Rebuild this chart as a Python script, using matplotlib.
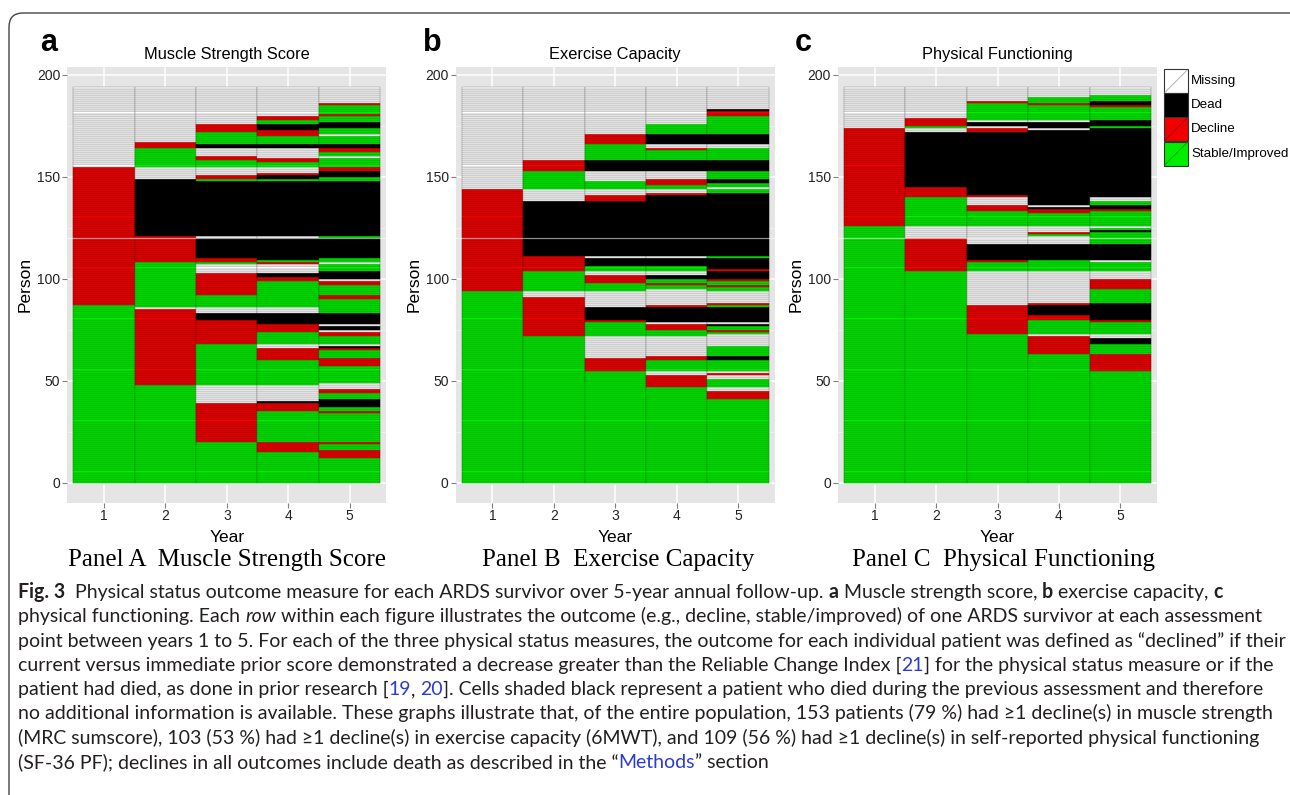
import matplotlib
matplotlib.use("Agg")
import matplotlib.pyplot as plt
from matplotlib.patches import Rectangle, FancyBboxPatch
from matplotlib.font_manager import FontProperties
import numpy as np

W, H = 1290, 795
plt.rcParams["font.family"] = ["Liberation Sans", "DejaVu Sans"]

# states: M = missing, D = dead, R = decline, G = stable/improved
years = [1, 2, 3, 4, 5]
y_ticks = [0, 50, 100, 150, 200]
legend_codes = ["M", "D", "R", "G"]
legend_labels = ["Missing", "Dead", "Decline", "Stable/Improved"]

# runs per year, listed from person 0 upwards: (state, number of persons)
strength_runs = [
    [("G", 87), ("R", 68), ("M", 39)],
    [("G", 48), ("R", 37), ("M", 1), ("G", 22), ("R", 13), ("D", 28), ("M", 6), ("G", 9), ("R", 3), ("M", 27)],
    [("G", 20), ("R", 19), ("M", 9), ("G", 20), ("R", 12), ("D", 3), ("M", 3), ("G", 6), ("R", 11), ("M", 4),
     ("G", 1), ("R", 2), ("D", 10), ("M", 1), ("D", 27), ("G", 1), ("R", 2), ("M", 4), ("G", 3), ("R", 2),
     ("M", 4), ("D", 2), ("G", 6), ("R", 4), ("M", 18)],
    [("G", 15), ("R", 5), ("G", 15), ("R", 4), ("D", 1), ("M", 8), ("G", 12), ("R", 6), ("M", 2), ("G", 6),
     ("R", 4), ("D", 5), ("M", 3), ("G", 13), ("R", 2), ("D", 2), ("M", 4), ("R", 1), ("G", 1), ("D", 11),
     ("M", 1), ("D", 27), ("G", 1), ("D", 2), ("R", 1), ("M", 3), ("G", 2), ("R", 2), ("M", 5), ("D", 2),
     ("G", 4), ("R", 3), ("D", 3), ("G", 2), ("R", 2), ("M", 14)],
    [("G", 12), ("R", 4), ("G", 3), ("R", 1), ("G", 14), ("R", 1), ("G", 2), ("D", 4), ("G", 3), ("R", 2),
     ("M", 3), ("G", 8), ("R", 4), ("G", 4), ("R", 1), ("D", 1), ("M", 1), ("G", 4), ("R", 2), ("M", 1),
     ("D", 2), ("M", 1), ("D", 5), ("G", 7), ("R", 2), ("G", 5), ("R", 2), ("M", 1), ("D", 4), ("G", 3),
     ("M", 1), ("G", 2), ("D", 10), ("G", 1), ("D", 27), ("G", 2), ("D", 3), ("R", 2), ("G", 4), ("M", 1),
     ("G", 2), ("R", 2), ("D", 2), ("G", 4), ("M", 1), ("G", 3), ("D", 3), ("G", 3), ("R", 1), ("G", 4),
     ("R", 1), ("M", 8)],
]

exercise_runs = [
    [("G", 94), ("R", 50), ("M", 50)],
    [("G", 72), ("R", 19), ("M", 3), ("G", 10), ("R", 7), ("D", 27), ("M", 6), ("G", 9), ("R", 5), ("M", 36)],
    [("G", 55), ("R", 6), ("M", 11), ("G", 7), ("R", 1), ("D", 6), ("M", 8), ("G", 4), ("R", 4), ("M", 2),
     ("G", 2), ("D", 4), ("M", 1), ("D", 27), ("R", 3), ("M", 3), ("G", 4), ("M", 5), ("D", 5), ("G", 8),
     ("R", 5), ("M", 23)],
    [("G", 47), ("R", 6), ("M", 2), ("G", 5), ("R", 2), ("M", 10), ("G", 3), ("R", 3), ("M", 1), ("D", 7),
     ("R", 1), ("M", 8), ("G", 2), ("R", 1), ("G", 2), ("D", 2), ("M", 2), ("G", 2), ("D", 4), ("M", 1),
     ("D", 30), ("R", 1), ("M", 2), ("G", 2), ("R", 3), ("M", 4), ("D", 5), ("G", 5), ("R", 1), ("M", 2),
     ("D", 5), ("G", 5), ("M", 18)],
    [("G", 41), ("R", 4), ("M", 2), ("G", 4), ("M", 2), ("R", 1), ("M", 1), ("G", 5), ("D", 2), ("G", 5),
     ("M", 6), ("G", 1), ("R", 1), ("G", 2), ("D", 1), ("M", 1), ("D", 7), ("G", 1), ("R", 1), ("M", 6),
     ("G", 2), ("R", 1), ("G", 2), ("R", 1), ("D", 4), ("R", 1), ("D", 5), ("G", 1), ("D", 31), ("G", 2),
     ("M", 1), ("G", 2), ("D", 2), ("G", 4), ("D", 5), ("G", 6), ("M", 2), ("D", 5), ("G", 9), ("R", 2),
     ("D", 1), ("M", 11)],
]

physical_runs = [
    [("G", 126), ("R", 48), ("M", 20)],
    [("G", 104), ("R", 16), ("M", 6), ("G", 14), ("R", 5), ("D", 27), ("M", 2), ("G", 1), ("R", 4), ("M", 15)],
    [("G", 73), ("R", 14), ("M", 17), ("G", 4), ("R", 1), ("D", 8), ("M", 9), ("G", 7), ("R", 3), ("M", 4),
     ("R", 1), ("D", 31), ("R", 2), ("M", 1), ("D", 2), ("M", 1), ("G", 8), ("R", 1), ("M", 7)],
    [("G", 63), ("R", 9), ("M", 1), ("G", 7), ("R", 2), ("D", 5), ("R", 1), ("M", 16), ("G", 5), ("D", 8),
     ("M", 4), ("G", 1), ("R", 1), ("M", 3), ("G", 6), ("R", 2), ("D", 1), ("M", 1), ("D", 37), ("M", 1),
     ("D", 3), ("M", 1), ("G", 7), ("R", 1), ("G", 3), ("M", 5)],
    [("G", 55), ("R", 8), ("G", 5), ("D", 3), ("M", 2), ("G", 6), ("R", 1), ("D", 8), ("G", 7), ("R", 5),
     ("M", 4), ("G", 4), ("M", 1), ("D", 8), ("G", 6), ("D", 1), ("G", 1), ("M", 1), ("G", 7), ("R", 1),
     ("D", 2), ("G", 2), ("M", 2), ("D", 34), ("G", 1), ("D", 3), ("G", 6), ("R", 1), ("D", 2), ("G", 3),
     ("M", 4)],
]

panel_runs = [strength_runs, exercise_runs, physical_runs]
panel_titles = ["Muscle Strength Score", "Exercise Capacity", "Physical Functioning"]
panel_letters = ["a", "b", "c"]
panel_names = ["Panel A  Muscle Strength Score", "Panel B  Exercise Capacity",
               "Panel C  Physical Functioning"]

caption_lines = [
    [("Fig. 3", "b"), ("  Physical status outcome measure for each ARDS survivor over 5-year annual follow-up. ", "n"),
     ("a", "b"), (" Muscle strength score, ", "n"), ("b", "b"), (" exercise capacity, ", "n"), ("c", "b")],
    [("physical functioning. Each ", "n"), ("row", "i"),
     (" within each figure illustrates the outcome (e.g., decline, stable/improved) of one ARDS survivor at each assessment", "n")],
    [("point between years 1 to 5. For each of the three physical status measures, the outcome for each individual "
      "patient was defined as \u201cdeclined\u201d if their", "n")],
    [("current versus immediate prior score demonstrated a decrease greater than the Reliable Change Index [", "n"),
     ("21", "l"), ("] for the physical status measure or if the", "n")],
    [("patient had died, as done in prior research [", "n"), ("19", "l"), (", ", "n"), ("20", "l"),
     ("]. Cells shaded black represent a patient who died during the previous assessment and therefore", "n")],
    [("no additional information is available. These graphs illustrate that, of the entire population, 153 patients "
      "(79 %) had \u22651 decline(s) in muscle strength", "n")],
    [("(MRC sumscore), 103 (53 %) had \u22651 decline(s) in exercise capacity (6MWT), and 109 (56 %) had \u22651 "
      "decline(s) in self-reported physical functioning", "n")],
    [("(SF-36 PF); declines in all outcomes include death as described in the \u201c", "n"), ("Methods", "l"),
     ("\u201d section", "n")],
]

FACE = {"M": "#ffffff", "D": "#000000", "R": "#f20000", "G": "#00ee00"}
EDGE = {"M": "#8c8c8c", "D": "#000000", "R": "#8a0000", "G": "#008a00"}


def expand(runs):
    cells = []
    for state, n in runs:
        cells += [state] * n
    return cells


fig = plt.figure(figsize=(W / 100, H / 100), dpi=100)
fig.patch.set_facecolor("white")

ax_left = [67.2, 455.6, 837.9]
ax_w, ax_top, ax_bot = 319.2, 67.2, 502.5

for k in range(3):
    ax = fig.add_axes([ax_left[k] / W, (H - ax_bot) / H, ax_w / W, (ax_bot - ax_top) / H])
    ax.set_facecolor("#e5e5e5")
    for yr, col in zip(years, panel_runs[k]):
        cells = expand(col)
        ax.bar([yr] * len(cells), 1, width=1, bottom=np.arange(len(cells)),
               color=[FACE[c] for c in cells], edgecolor=[EDGE[c] for c in cells],
               linewidth=0.35, zorder=2)
    ax.axhline(120, color="white", lw=0.9, alpha=0.55, zorder=3)
    ax.set_xlim(0.4, 5.6)
    ax.set_ylim(-9.7, 203.7)
    ax.set_xticks(years)
    ax.set_yticks(y_ticks)
    ax.set_yticks([25, 75, 125, 175], minor=True)
    ax.set_axisbelow(True)
    ax.grid(True, which="major", color="white", lw=1.1)
    ax.grid(True, which="minor", axis="y", color="#f4f4f4", lw=0.5)
    for sp in ax.spines.values():
        sp.set_visible(False)
    ax.tick_params(which="major", length=3.5, width=0.8, color="#7f7f7f",
                   labelsize=10, labelcolor="#222222", pad=1.5)
    ax.tick_params(which="minor", length=0)
    ax.set_xlabel("Year", fontsize=12.5)
    ax.xaxis.set_label_coords(0.5, -0.063)
    ax.set_ylabel("Person", fontsize=12.5)
    ax.yaxis.set_label_coords(-0.107, 0.5)
    ax.text(0.5, (ax_bot - 54) / (ax_bot - ax_top), panel_titles[k], transform=ax.transAxes,
            ha="center", va="center", fontsize=11.8)

# overlay in image pixel coordinates
ov = fig.add_axes([0, 0, 1, 1], zorder=5)
ov.set_xlim(0, W)
ov.set_ylim(H, 0)
ov.axis("off")

ov.add_patch(FancyBboxPatch((9, 13), 1400, 900, boxstyle="round,pad=0,rounding_size=14",
                            fc="none", ec="#444444", lw=1.0))

for k, xc in enumerate([49, 432, 803]):
    ov.text(xc, 51, panel_letters[k], ha="center", va="baseline", fontsize=22, fontweight="bold")

for k, xc in enumerate([226.5, 618.5, 1003.5]):
    ov.text(xc, 566, panel_names[k], ha="center", va="baseline", fontsize=18,
            family=["Liberation Serif", "DejaVu Serif"])

# legend
key_top = [69.3, 93.3, 117.3, 141.7]
for code, label, yt in zip(legend_codes, legend_labels, key_top):
    ov.add_patch(Rectangle((1164, yt), 24, 24, fc=FACE[code] if code != "M" else "white",
                           ec="#333333", lw=0.8))
    diag = {"M": "#b0b0b0", "D": "#000000", "R": "#a00000", "G": "#00a000"}[code]
    ov.plot([1165, 1187], [yt + 23, yt + 1], color=diag, lw=0.7)
    ov.text(1191, yt + 12, label, ha="left", va="center", fontsize=9.6)

# caption with mixed styles
renderer = fig.canvas.get_renderer()
cap_family = ["Lato", "DejaVu Sans"]


def style_kw(st):
    kw = {"weight": "normal", "style": "normal", "color": "#231f20"}
    if st == "b":
        kw["weight"] = "bold"
    elif st == "i":
        kw["style"] = "italic"
    elif st == "l":
        kw["color"] = "#2a3bd4"
    return kw


def run_width(s, st, size):
    kw = style_kw(st)
    prop = FontProperties(family=cap_family, weight=kw["weight"], style=kw["style"], size=size)
    w1 = renderer.get_text_width_height_descent(s + "x", prop, ismath=False)[0]
    w2 = renderer.get_text_width_height_descent("x", prop, ismath=False)[0]
    return w1 - w2


base = 10.0
w6 = sum(run_width(s, st, base) for s, st in caption_lines[5])
cap_size = base * (1278 - 18) / w6

for i, runs in enumerate(caption_lines):
    x = 18
    y = 598 + 24.3 * i
    for s, st in runs:
        kw = style_kw(st)
        ov.text(x, y, s, ha="left", va="baseline", fontsize=cap_size, family=cap_family,
                fontweight=kw["weight"], fontstyle=kw["style"], color=kw["color"])
        x += run_width(s, st, cap_size)

fig.savefig("out.png", dpi=100)
